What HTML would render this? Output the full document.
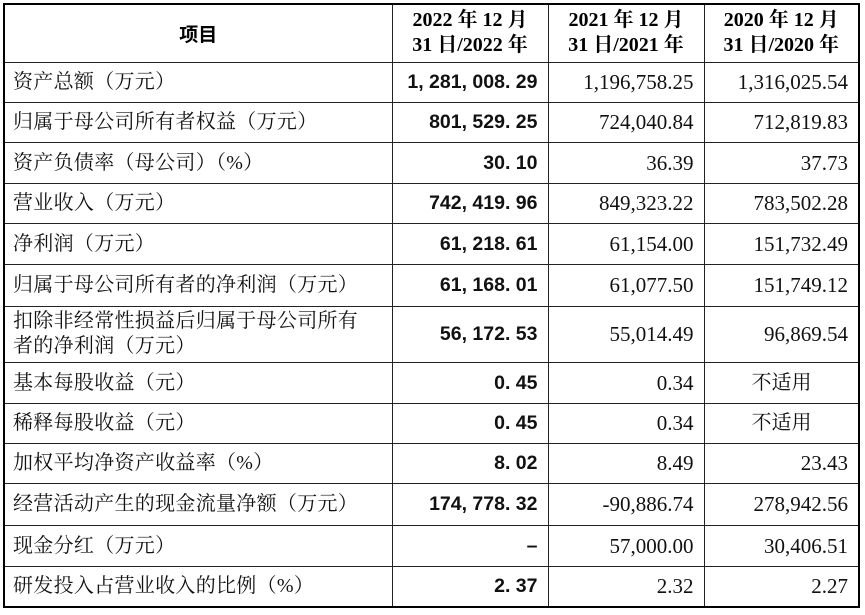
<!DOCTYPE html>
<html><head><meta charset="utf-8"><style>
body{margin:0;background:#fff;width:865px;height:615px;overflow:hidden}
table{position:absolute;left:3px;top:3px;border-collapse:collapse;table-layout:fixed;border:2px solid #000}
td{border:1.5px solid #222;padding:0;color:#111;line-height:22px;white-space:nowrap}
td.l{font-family:"Liberation Serif","Noto Serif CJK SC",serif;font-size:20px;padding-left:8px;text-align:left;white-space:normal;letter-spacing:0.3px}
td.b{font-family:"Liberation Sans","Noto Sans CJK SC",sans-serif;font-size:19.5px;font-weight:bold;text-align:right;padding-right:10px}
td.n{font-family:"Liberation Serif","Noto Serif CJK SC",serif;font-size:21px;text-align:right;padding-right:10px}
td.c{font-family:"Liberation Serif","Noto Serif CJK SC",serif;font-size:20px;text-align:left;padding-left:47px}
th{border:1.5px solid #222;font-family:"Liberation Serif","Noto Serif CJK SC",serif;font-weight:bold;font-size:20px;line-height:25px;white-space:nowrap}
</style></head><body>
<table>
<colgroup><col style="width:388px"><col style="width:156px"><col style="width:156px"><col style="width:155px"></colgroup>
<tr style="height:58px"><th style="font-family:'Noto Sans CJK SC',sans-serif;font-size:19px">项目</th><th>2022 年 12 月<br>31 日/2022 年</th><th>2021 年 12 月<br>31 日/2021 年</th><th>2020 年 12 月<br>31 日/2020 年</th></tr>
<tr style="height:40px"><td class="l">资产总额（万元）</td><td class="b">1, 281, 008. 29</td><td class="n">1,196,758.25</td><td class="n">1,316,025.54</td></tr>
<tr style="height:40px"><td class="l">归属于母公司所有者权益（万元）</td><td class="b">801, 529. 25</td><td class="n">724,040.84</td><td class="n">712,819.83</td></tr>
<tr style="height:41px"><td class="l">资产负债率（母公司）（%）</td><td class="b">30. 10</td><td class="n">36.39</td><td class="n">37.73</td></tr>
<tr style="height:40px"><td class="l">营业收入（万元）</td><td class="b">742, 419. 96</td><td class="n">849,323.22</td><td class="n">783,502.28</td></tr>
<tr style="height:41px"><td class="l">净利润（万元）</td><td class="b">61, 218. 61</td><td class="n">61,154.00</td><td class="n">151,732.49</td></tr>
<tr style="height:42px"><td class="l">归属于母公司所有者的净利润（万元）</td><td class="b">61, 168. 01</td><td class="n">61,077.50</td><td class="n">151,749.12</td></tr>
<tr style="height:56px"><td class="l" style="line-height:25px">扣除非经常性损益后归属于母公司所有<br>者的净利润（万元）</td><td class="b">56, 172. 53</td><td class="n">55,014.49</td><td class="n">96,869.54</td></tr>
<tr style="height:41px"><td class="l">基本每股收益（元）</td><td class="b">0. 45</td><td class="n">0.34</td><td class="c">不适用</td></tr>
<tr style="height:40px"><td class="l">稀释每股收益（元）</td><td class="b">0. 45</td><td class="n">0.34</td><td class="c">不适用</td></tr>
<tr style="height:40px"><td class="l">加权平均净资产收益率（%）</td><td class="b">8. 02</td><td class="n">8.49</td><td class="n">23.43</td></tr>
<tr style="height:42px"><td class="l">经营活动产生的现金流量净额（万元）</td><td class="b">174, 778. 32</td><td class="n">-90,886.74</td><td class="n">278,942.56</td></tr>
<tr style="height:41px"><td class="l">现金分红（万元）</td><td class="b">–</td><td class="n">57,000.00</td><td class="n">30,406.51</td></tr>
<tr style="height:41px"><td class="l">研发投入占营业收入的比例（%）</td><td class="b">2. 37</td><td class="n">2.32</td><td class="n">2.27</td></tr>
</table>
</body></html>
